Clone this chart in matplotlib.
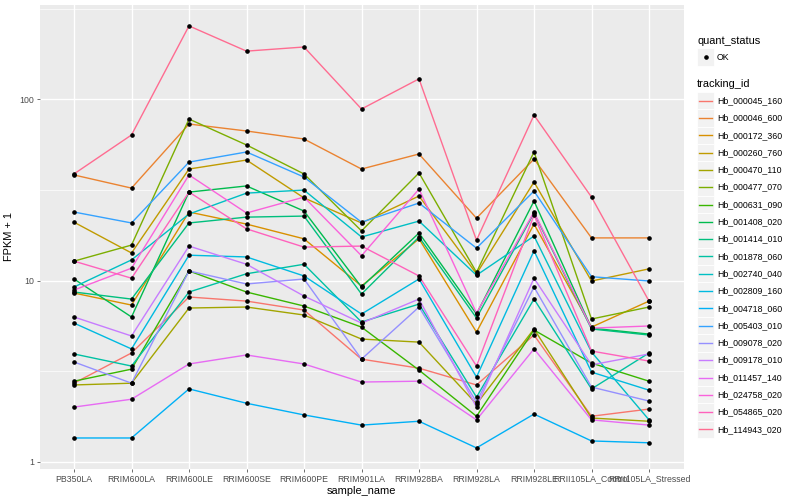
import matplotlib.pyplot as plt
import numpy as np
from matplotlib.patches import Rectangle
from matplotlib.lines import Line2D

plt.rcParams['font.family'] = ['Liberation Sans', 'DejaVu Sans']

samples = ["PB350LA", "RRIM600LA", "RRIM600LE", "RRIM600SE", "RRIM600PE",
           "RRIM901LA", "RRIM928BA", "RRIM928LA", "RRIM928LE",
           "RRII105LA_Control", "RRII105LA_Stressed"]

tracking_ids = ["Hb_000045_160", "Hb_000046_600", "Hb_000172_360", "Hb_000260_760",
                "Hb_000470_110", "Hb_000477_070", "Hb_000631_090", "Hb_001408_020",
                "Hb_001414_010", "Hb_001878_060", "Hb_002740_040", "Hb_002809_160",
                "Hb_004718_060", "Hb_005403_010", "Hb_009078_020", "Hb_009178_010",
                "Hb_011457_140", "Hb_024758_020", "Hb_054865_020", "Hb_114943_020"]

# ggplot default hue palette, 20 levels
hue_colors = ["#F8766D", "#EA8331", "#D89000", "#C09B00", "#A3A500", "#7CAE00",
              "#39B600", "#00BB4E", "#00BF7D", "#00C1A3", "#00BFC4", "#00BAE0",
              "#00B0F6", "#35A2FF", "#9590FF", "#C77CFF", "#E76BF3", "#FA62DB",
              "#FF62BC", "#FF6C91"]

# FPKM + 1, one value per sample
hb_000045_160 = [2.71, 3.98, 8.11, 7.70, 6.87, 3.68, 3.28, 2.65, 5.00, 1.78, 1.95]
hb_000046_600 = [38.3, 32.4, 73.2, 67.0, 60.5, 41.3, 50.0, 22.1, 46.9, 17.2, 17.2]
hb_000172_360 = [8.53, 7.32, 23.9, 20.5, 17.0, 9.33, 17.0, 5.19, 20.5, 5.53, 7.70]
hb_000260_760 = [21.0, 14.2, 41.3, 46.3, 28.6, 20.8, 29.3, 10.9, 35.0, 9.94, 11.6]
hb_000470_110 = [2.65, 2.71, 7.05, 7.14, 6.45, 4.75, 4.57, 2.08, 5.40, 1.74, 1.67]
hb_000477_070 = [12.8, 15.7, 78.0, 56.1, 38.8, 18.8, 39.3, 11.1, 51.3, 6.13, 7.14]
hb_000631_090 = [2.78, 3.24, 11.3, 8.64, 7.23, 5.53, 3.20, 1.78, 5.33, 3.50, 2.78]
hb_001408_020 = [10.2, 6.29, 30.8, 33.3, 24.2, 9.21, 18.3, 6.53, 27.5, 5.46, 5.06]
hb_001414_010 = [8.64, 7.90, 20.8, 22.4, 22.7, 8.42, 17.4, 6.21, 23.6, 5.40, 5.00]
hb_001878_060 = [3.93, 3.37, 8.64, 10.9, 12.3, 5.90, 7.41, 2.27, 7.90, 2.52, 3.98]
hb_002740_040 = [9.21, 13.0, 23.3, 30.4, 31.6, 17.4, 21.3, 10.7, 17.6, 4.03, 1.70]
hb_002809_160 = [5.82, 4.19, 13.8, 13.5, 10.6, 6.53, 10.2, 2.93, 14.6, 3.12, 2.48]
hb_004718_060 = [1.35, 1.35, 2.52, 2.10, 1.81, 1.59, 1.67, 1.19, 1.83, 1.30, 1.27]
hb_005403_010 = [23.9, 20.8, 45.1, 51.3, 37.3, 21.0, 26.8, 15.1, 31.2, 10.5, 9.94]
hb_009078_020 = [3.55, 2.71, 11.3, 9.57, 10.2, 3.68, 7.14, 2.13, 9.21, 2.58, 2.16]
hb_009178_010 = [6.29, 4.94, 15.5, 12.3, 8.21, 5.82, 7.90, 2.00, 10.3, 3.42, 3.93]
hb_011457_140 = [2.00, 2.21, 3.46, 3.88, 3.46, 2.75, 2.78, 1.70, 4.19, 1.70, 1.59]
hb_024758_020 = [8.86, 11.7, 38.3, 23.6, 28.9, 13.7, 32.0, 6.61, 23.9, 5.46, 5.61]
hb_054865_020 = [12.8, 10.3, 30.8, 19.3, 15.3, 15.5, 10.6, 3.37, 23.0, 4.08, 3.59]
hb_114943_020 = [38.8, 63.7, 255.0, 185.0, 195.0, 88.6, 130.0, 16.7, 82.0, 28.9, 7.70]

fpkm = [hb_000045_160, hb_000046_600, hb_000172_360, hb_000260_760, hb_000470_110,
        hb_000477_070, hb_000631_090, hb_001408_020, hb_001414_010, hb_001878_060,
        hb_002740_040, hb_002809_160, hb_004718_060, hb_005403_010, hb_009078_020,
        hb_009178_010, hb_011457_140, hb_024758_020, hb_054865_020, hb_114943_020]

W, H = 800, 500
fig = plt.figure(figsize=(W / 100, H / 100), dpi=100)
ax = fig.add_axes([39.5 / W, 31 / H, 644 / W, 464.2 / H])
ax.set_facecolor("#EBEBEB")
for s in ax.spines.values():
    s.set_visible(False)

x = np.arange(len(samples))

# lines first, then the points on top (like geom_line + geom_point)
for vals, col in zip(fpkm, hue_colors):
    ax.plot(x, vals, color=col, lw=1.0, zorder=3)
for vals in fpkm:
    ax.plot(x, vals, 'o', color='black', ms=2.3, mec='black', zorder=4)

ax.set_yscale('log')
allv = np.log10(np.concatenate([np.array(v) for v in fpkm]))
lo, hi = allv.min(), allv.max()
pad = 0.05 * (hi - lo)
ax.set_ylim(10 ** (lo - pad), 10 ** (hi + pad))
ax.set_xlim(-0.6, len(samples) - 0.4)

ax.set_yticks([1, 10, 100])
ax.set_yticklabels(["1", "10", "100"])
ax.set_yticks([10 ** 0.5, 10 ** 1.5, 10 ** 2.5], minor=True)
ax.yaxis.set_minor_formatter(plt.NullFormatter())
ax.set_xticks(x)
ax.set_xticklabels(samples)

ax.grid(True, which='major', color='white', lw=1.0, zorder=1)
ax.grid(True, which='minor', axis='y', color='white', lw=0.5, zorder=1)
ax.set_axisbelow(True)
ax.tick_params(which='major', length=2, width=0.5, color='#333333',
               labelsize=6.3, labelcolor='#4D4D4D', pad=2)
ax.tick_params(which='minor', length=0)

ax.set_xlabel("sample_name", fontsize=7.9, labelpad=2)
ax.set_ylabel("FPKM + 1", fontsize=7.9, labelpad=4)

# legends, drawn in figure pixel space
def fx(px):
    return px / W


def fy(py):
    return 1 - py / H


tf = fig.transFigure
key_w, key_h = 17, 17.3
fig.text(fx(697), fy(40.5), "quant_status", fontsize=7.9, va='center', ha='left')
fig.patches.append(Rectangle((fx(697), fy(57 + key_h / 2)), key_w / W, key_h / H,
                             transform=tf, facecolor='#F2F2F2', edgecolor='white', lw=0.6))
fig.lines.append(Line2D([fx(705.5)], [fy(57)], transform=tf, marker='o', ms=2.3,
                        color='black', ls='none'))
fig.text(fx(717), fy(57), "OK", fontsize=6.3, va='center', ha='left')

fig.text(fx(697), fy(84), "tracking_id", fontsize=7.9, va='center', ha='left')
for i, (name, col) in enumerate(zip(tracking_ids, hue_colors)):
    cy = 100.7 + i * key_h
    fig.patches.append(Rectangle((fx(697), fy(cy + key_h / 2)), key_w / W, key_h / H,
                                 transform=tf, facecolor='#F2F2F2', edgecolor='white', lw=0.6))
    fig.lines.append(Line2D([fx(699), fx(712)], [fy(cy), fy(cy)], transform=tf,
                            color=col, lw=1.0))
    fig.text(fx(717), fy(cy), name, fontsize=6.3, va='center', ha='left')

fig.savefig("out.png", dpi=100, facecolor='white')
